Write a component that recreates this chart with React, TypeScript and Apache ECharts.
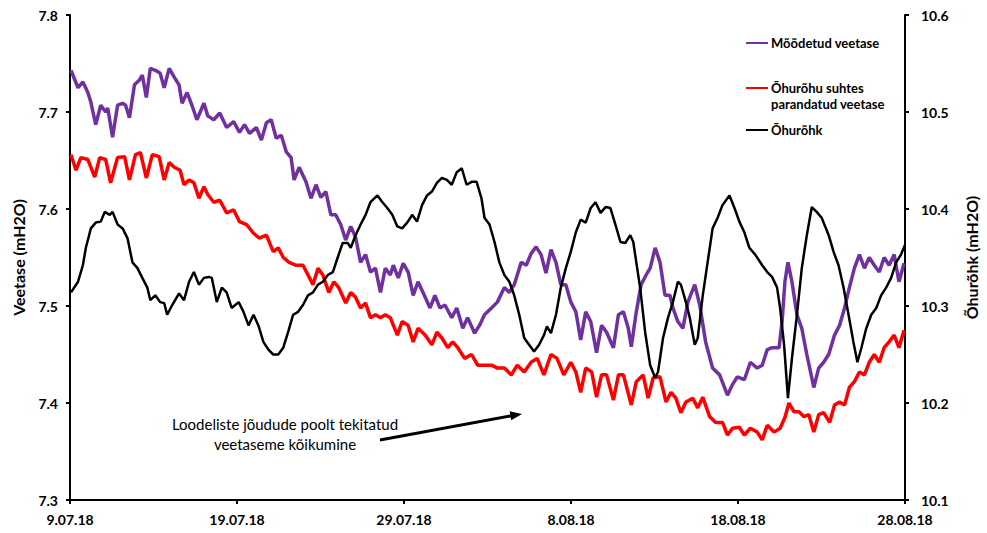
import React, { useEffect, useRef } from "react";
import * as echarts from "echarts";

const tickLabels = ["9.07.18", "19.07.18", "29.07.18", "8.08.18", "18.08.18", "28.08.18"];

// Mõõdetud veetase (days since 9.07.18, mH2O)
const measuredDays = [0.06,0.48,0.77,1.07,1.25,1.54,1.84,2.14,2.26,2.55,2.85,3.15,3.33,3.56,3.86,4.16,4.33,4.57,4.81,5.11,5.40,5.64,5.94,6.24,6.53,6.71,7.01,7.30,7.60,8.02,8.25,8.61,8.97,9.38,9.80,10.15,10.45,10.75,11.16,11.46,11.76,12.05,12.35,12.65,12.95,13.24,13.42,13.72,14.13,14.43,14.73,15.02,15.32,15.62,15.91,16.21,16.51,16.81,17.10,17.40,17.70,17.99,18.29,18.59,18.88,19.18,19.36,19.66,19.95,20.25,20.55,20.84,21.14,21.56,21.85,22.15,22.45,22.86,23.16,23.52,23.81,24.23,24.52,24.82,25.24,25.59,26.01,26.31,26.60,27.02,27.32,27.61,27.91,28.21,28.50,28.80,29.10,29.39,29.69,29.99,30.29,30.58,30.88,31.18,31.53,31.83,32.13,32.54,32.84,33.14,33.43,33.61,33.91,34.20,34.50,34.74,35.04,35.33,35.63,35.93,36.10,36.40,36.70,37.00,37.41,37.71,38.06,38.48,38.90,39.37,39.67,39.96,40.38,40.74,41.15,41.45,41.75,42.04,42.46,42.64,42.81,42.99,43.23,43.53,43.82,44.12,44.54,44.83,45.13,45.43,45.78,46.08,46.38,46.67,46.97,47.27,47.57,47.86,48.16,48.46,48.75,49.05,49.35,49.64,49.94];
const measuredValues = [7.743,7.725,7.731,7.720,7.710,7.687,7.707,7.700,7.704,7.674,7.707,7.709,7.707,7.694,7.728,7.733,7.738,7.715,7.745,7.743,7.740,7.725,7.745,7.736,7.728,7.709,7.720,7.707,7.692,7.709,7.696,7.692,7.699,7.684,7.690,7.679,7.687,7.678,7.684,7.671,7.689,7.692,7.673,7.676,7.659,7.653,7.630,7.643,7.628,7.611,7.625,7.612,7.618,7.594,7.594,7.584,7.568,7.582,7.571,7.545,7.553,7.535,7.539,7.514,7.539,7.532,7.542,7.529,7.544,7.535,7.511,7.525,7.514,7.498,7.511,7.498,7.501,7.488,7.498,7.477,7.488,7.472,7.480,7.491,7.498,7.504,7.519,7.514,7.522,7.545,7.542,7.554,7.561,7.553,7.534,7.558,7.545,7.522,7.522,7.504,7.494,7.465,7.494,7.484,7.452,7.480,7.473,7.457,7.491,7.494,7.477,7.458,7.494,7.522,7.532,7.539,7.560,7.545,7.511,7.511,7.498,7.484,7.477,7.504,7.522,7.501,7.463,7.436,7.429,7.408,7.419,7.427,7.424,7.442,7.436,7.439,7.455,7.457,7.457,7.484,7.525,7.545,7.525,7.491,7.477,7.450,7.416,7.436,7.442,7.450,7.470,7.480,7.498,7.519,7.539,7.553,7.539,7.550,7.542,7.535,7.550,7.542,7.553,7.525,7.544];

// Õhurõhu suhtes parandatud veetase
const correctedDays = [0.06,0.36,0.65,1.07,1.48,1.78,2.14,2.43,2.85,3.27,3.56,3.92,4.22,4.57,4.93,5.34,5.64,5.94,6.24,6.59,6.83,7.13,7.42,7.72,8.02,8.25,8.61,8.97,9.38,9.80,10.15,10.57,10.99,11.34,11.76,12.17,12.47,12.77,13.12,13.54,13.95,14.31,14.55,14.85,15.14,15.50,15.80,16.09,16.51,16.81,17.10,17.40,17.70,17.99,18.29,18.59,18.88,19.18,19.60,19.89,20.25,20.55,20.84,21.26,21.67,21.97,22.27,22.62,22.92,23.22,23.63,24.05,24.41,24.82,25.24,25.59,26.01,26.43,26.78,27.20,27.61,27.97,28.38,28.80,29.16,29.57,29.99,30.29,30.58,30.88,31.24,31.53,31.83,32.13,32.54,32.84,33.14,33.61,33.91,34.32,34.62,34.92,35.33,35.69,35.99,36.28,36.58,36.88,37.29,37.59,37.89,38.30,38.66,39.07,39.37,39.67,40.08,40.38,40.74,41.15,41.45,41.75,42.16,42.52,42.81,43.05,43.35,43.65,43.94,44.24,44.54,44.83,45.13,45.49,45.78,46.08,46.38,46.67,46.97,47.27,47.57,47.86,48.16,48.46,48.75,49.05,49.35,49.64,49.94];
const correctedValues = [7.656,7.640,7.653,7.651,7.633,7.653,7.651,7.627,7.653,7.654,7.630,7.656,7.658,7.632,7.656,7.654,7.630,7.648,7.643,7.640,7.625,7.630,7.627,7.611,7.623,7.615,7.607,7.609,7.596,7.599,7.587,7.584,7.575,7.570,7.573,7.556,7.560,7.550,7.545,7.542,7.542,7.530,7.522,7.539,7.532,7.514,7.525,7.519,7.503,7.514,7.509,7.498,7.503,7.488,7.491,7.488,7.491,7.488,7.470,7.484,7.480,7.463,7.477,7.470,7.460,7.473,7.467,7.457,7.463,7.457,7.446,7.450,7.439,7.439,7.439,7.436,7.436,7.429,7.439,7.432,7.442,7.446,7.429,7.450,7.446,7.429,7.442,7.432,7.411,7.436,7.432,7.406,7.429,7.429,7.403,7.429,7.429,7.398,7.422,7.429,7.405,7.426,7.427,7.401,7.411,7.405,7.390,7.401,7.405,7.395,7.406,7.386,7.380,7.380,7.367,7.374,7.375,7.367,7.374,7.370,7.362,7.377,7.370,7.374,7.385,7.400,7.391,7.391,7.386,7.388,7.370,7.388,7.390,7.380,7.398,7.401,7.398,7.416,7.422,7.432,7.429,7.442,7.450,7.442,7.457,7.463,7.470,7.457,7.475];

// Õhurõhk (right axis)
const pressureDays = [0.06,0.48,0.77,0.95,1.25,1.54,1.84,2.08,2.38,2.55,2.85,3.15,3.44,3.74,4.04,4.33,4.63,4.81,5.11,5.40,5.64,5.82,6.12,6.53,6.83,7.13,7.42,7.72,8.02,8.31,8.49,8.79,9.09,9.38,9.68,10.10,10.39,10.69,10.99,11.28,11.58,11.88,12.17,12.47,12.77,13.06,13.36,13.66,13.95,14.25,14.55,14.85,15.14,15.44,15.74,16.03,16.33,16.63,16.81,17.10,17.40,17.70,17.99,18.41,18.71,19.00,19.30,19.60,19.89,20.19,20.49,20.78,21.08,21.38,21.67,21.97,22.27,22.57,22.86,23.16,23.46,23.75,24.05,24.35,24.64,24.82,25.12,25.42,25.71,26.01,26.31,26.60,26.90,27.20,27.49,27.79,28.09,28.38,28.56,28.80,29.10,29.39,29.69,29.99,30.29,30.58,30.88,31.18,31.47,31.77,32.07,32.36,32.66,32.96,33.25,33.55,33.73,33.91,34.14,34.44,34.74,35.04,35.21,35.51,35.81,36.10,36.40,36.58,36.88,37.11,37.41,37.59,37.89,38.18,38.48,38.78,39.07,39.49,39.79,40.08,40.38,40.68,41.03,41.45,41.75,42.04,42.34,42.52,42.76,42.99,43.23,43.53,43.82,44.12,44.42,44.71,45.01,45.43,45.72,46.02,46.32,46.62,46.91,47.15,47.39,47.68,47.98,48.28,48.57,48.87,49.17,49.47,49.76,50.00];
const pressureValues = [10.314,10.325,10.342,10.360,10.380,10.386,10.387,10.397,10.394,10.397,10.384,10.380,10.370,10.345,10.339,10.329,10.319,10.306,10.311,10.304,10.303,10.291,10.301,10.313,10.306,10.325,10.335,10.322,10.329,10.330,10.329,10.304,10.319,10.314,10.298,10.304,10.294,10.280,10.291,10.280,10.263,10.255,10.250,10.250,10.257,10.273,10.291,10.294,10.301,10.311,10.314,10.322,10.325,10.332,10.335,10.350,10.365,10.365,10.360,10.373,10.384,10.394,10.407,10.414,10.407,10.401,10.394,10.382,10.380,10.386,10.394,10.387,10.404,10.414,10.418,10.427,10.432,10.430,10.425,10.438,10.442,10.425,10.428,10.428,10.411,10.391,10.384,10.366,10.345,10.332,10.325,10.311,10.291,10.267,10.260,10.253,10.260,10.270,10.279,10.272,10.291,10.319,10.339,10.356,10.376,10.389,10.386,10.401,10.407,10.396,10.402,10.401,10.384,10.366,10.365,10.373,10.366,10.345,10.319,10.273,10.239,10.226,10.232,10.267,10.288,10.304,10.325,10.322,10.304,10.288,10.260,10.267,10.311,10.345,10.380,10.391,10.404,10.414,10.401,10.387,10.376,10.360,10.353,10.342,10.335,10.330,10.319,10.298,10.260,10.205,10.246,10.291,10.339,10.373,10.402,10.397,10.391,10.373,10.356,10.342,10.319,10.291,10.263,10.242,10.257,10.277,10.291,10.298,10.311,10.319,10.329,10.345,10.353,10.363];

const seriesNames = ["Mõõdetud veetase", "Õhurõhu suhtes\nparandatud veetase", "Õhurõhk"];
const seriesColors = ["#7030A0", "#FF0000", "#000000"];

const zip = (d: number[], v: number[]) => d.map((x, i) => [x, v[i]]);

const FONT = "Lato, 'Open Sans', sans-serif";

export default function App() {
  const ref = useRef<HTMLDivElement>(null);
  useEffect(() => {
    if (!ref.current) return;
    const chart = echarts.init(ref.current, null, { renderer: "svg" });
    const axisLine = { show: true, lineStyle: { color: "#000", width: 2 } };
    const axisTick = { show: true, length: 4, lineStyle: { color: "#000", width: 2 } };
    const labelStyle = { color: "#000", fontWeight: "bold" as const, fontSize: 14, fontFamily: FONT };
    const legendX = 746;
    const legendItems = [
      { y: 43, color: seriesColors[0], text: seriesNames[0] },
      { y: 88, color: seriesColors[1], text: seriesNames[1] },
      { y: 130, color: seriesColors[2], text: seriesNames[2] },
    ];
    const graphic: any[] = [];
    legendItems.forEach((it) => {
      graphic.push({
        type: "line",
        shape: { x1: legendX, y1: it.y, x2: legendX + 22, y2: it.y },
        style: { stroke: it.color, lineWidth: 2 },
      });
      graphic.push({
        type: "text",
        x: legendX + 25,
        y: it.y - 8,
        style: {
          text: it.text,
          fill: "#000",
          font: `bold 13px ${FONT}`,
          lineHeight: 16,
          textVerticalAlign: "top",
        },
      });
    });
    graphic.push({
      type: "text",
      x: 285,
      y: 414,
      style: {
        text: "Loodeliste jõudude poolt tekitatud\nveetaseme kõikumine",
        fill: "#000",
        font: `15px ${FONT}`,
        lineHeight: 20,
        textAlign: "center",
      },
    });
    graphic.push({
      type: "line",
      shape: { x1: 380, y1: 440, x2: 513, y2: 415.5 },
      style: { stroke: "#000", lineWidth: 3 },
    });
    graphic.push({
      type: "polygon",
      shape: { points: [[522, 414], [511.2, 420.2], [509.6, 411.3]] },
      style: { fill: "#000" },
    });

    chart.setOption({
      animation: false,
      backgroundColor: "#fff",
      grid: { left: 70, right: 75, top: 15, bottom: 33, containLabel: false },
      xAxis: {
        type: "value",
        min: 0,
        max: 50,
        interval: 10,
        axisLine,
        axisTick: { ...axisTick, inside: false },
        splitLine: { show: false },
        axisLabel: {
          ...labelStyle,
          margin: 12,
          formatter: (v: number) => tickLabels[Math.round(v / 10)] ?? "",
        },
      },
      yAxis: [
        {
          type: "value",
          min: 7.3,
          max: 7.8,
          interval: 0.1,
          position: "left",
          axisLine,
          axisTick,
          splitLine: { show: false },
          axisLabel: { ...labelStyle, margin: 12, formatter: (v: number) => v.toFixed(1) },
          name: "Veetase (mH2O)",
          nameLocation: "middle",
          nameRotate: 90,
          nameGap: 44,
          nameTextStyle: { color: "#000", fontWeight: "bold", fontSize: 16, fontFamily: FONT },
        },
        {
          type: "value",
          min: 10.1,
          max: 10.6,
          interval: 0.1,
          position: "right",
          axisLine,
          axisTick,
          splitLine: { show: false },
          axisLabel: { ...labelStyle, margin: 16, formatter: (v: number) => v.toFixed(1) },
          name: "Õhurõhk (mH2O)",
          nameLocation: "middle",
          nameRotate: 90,
          nameGap: 58,
          nameTextStyle: { color: "#000", fontWeight: "bold", fontSize: 16, fontFamily: FONT },
        },
      ],
      series: [
        {
          name: seriesNames[0],
          type: "line",
          yAxisIndex: 0,
          data: zip(measuredDays, measuredValues),
          showSymbol: false,
          lineStyle: { color: seriesColors[0], width: 3.5 },
          itemStyle: { color: seriesColors[0] },
        },
        {
          name: seriesNames[1],
          type: "line",
          yAxisIndex: 0,
          data: zip(correctedDays, correctedValues),
          showSymbol: false,
          lineStyle: { color: seriesColors[1], width: 3.5 },
          itemStyle: { color: seriesColors[1] },
        },
        {
          name: seriesNames[2],
          type: "line",
          yAxisIndex: 1,
          data: zip(pressureDays, pressureValues),
          showSymbol: false,
          lineStyle: { color: seriesColors[2], width: 2.5 },
          itemStyle: { color: seriesColors[2] },
        },
      ],
      graphic,
    });
    return () => chart.dispose();
  }, []);
  return (
    <div
      ref={ref}
      style={{ position: "fixed", left: 0, top: 0, width: 987, height: 533, background: "#fff" }}
    />
  );
}
